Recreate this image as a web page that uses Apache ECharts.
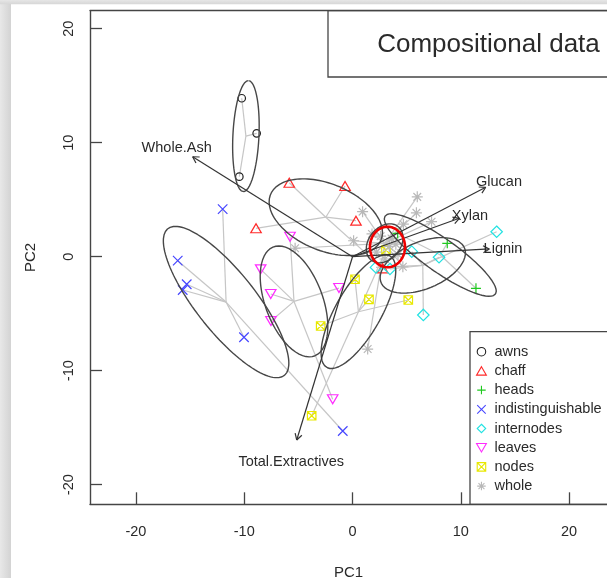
<!DOCTYPE html>
<html>
<head>
<meta charset="utf-8">
<script src="https://cdn.jsdelivr.net/npm/echarts@6/dist/echarts.min.js"></script>
<style>
  html, body { margin: 0; padding: 0; background: #fff; }
  #chart { width: 607px; height: 578px; }
</style>
</head>
<body>
<div id="chart"></div>
<script>
// PCA scores (PC1, PC2) per plant fraction
const groupNames = ['awns', 'chaff', 'heads', 'indistinguishable', 'internodes', 'leaves', 'nodes', 'whole'];
const awns = [[-10.23, 13.9], [-8.85, 10.82], [-10.45, 7.02]];
const chaff = [[-5.84, 6.49], [-0.69, 6.2], [0.32, 3.16], [-8.91, 2.49], [2.79, -1.02]];
const heads = [[4.17, 2.04], [8.75, 1.17], [11.4, -2.77]];
const indistinguishable = [[-11.99, 4.18], [-16.14, -0.35], [-15.31, -2.42], [-15.68, -2.92], [-10.02, -7.07], [-0.9, -15.29]];
const internodes = [[13.31, 2.19], [5.47, 0.44], [7.99, -0.05], [6.54, -5.11], [2.17, -0.94], [3.46, -1.08]];
const leaves = [[-5.77, 1.75], [-8.48, -1.11], [-7.55, -3.27], [-7.53, -5.64], [-1.25, -2.75], [-1.83, -12.51]];
const nodes = [[3.09, 0.59], [0.23, -1.98], [1.52, -3.74], [5.15, -3.8], [-2.94, -6.08], [-3.77, -13.95]];
const whole = [[5.98, 5.25], [0.93, 3.95], [5.9, 3.85], [4.7, 2.85], [7.3, 3.07], [0.1, 1.4], [4.65, -0.88],
               [1.4, -8.1], [-5.3, 0.74], [1.8, 2.0], [2.6, 1.8], [3.6, 1.6], [4.2, 0.2], [2.2, 0.4],
               [3.4, 0.9], [4.0, 1.1], [3.0, -0.2]];

// variable loadings (arrow tips)
const loadingNames = ['Whole.Ash', 'Glucan', 'Xylan', 'Lignin', 'Total.Extractives'];
const loadingPC1 = [-14.76, 12.3, 9.86, 12.63, -5.15];
const loadingPC2 = [8.77, 6.09, 3.37, 0.68, -16.08];

// highlighted region (centre PC1, centre PC2, radius PC1, radius PC2)
const highlight = [3.23, 0.85, 1.62, 1.78];

const xTicks = [-20, -10, 0, 10, 20];
const yTicks = [-20, -10, 0, 10, 20];

const groupData = [awns, chaff, heads, indistinguishable, internodes, leaves, nodes, whole];
const groupColors = ['#222222', '#ff2a2a', '#1fc91f', '#4646ff', '#22e2e2', '#ff2cff', '#e8e800', '#b9b9b9'];
const groupSymbols = [
  'circle',
  'path://M5,0L10,8.66L0,8.66Z',
  'path://M0,5L10,5M5,0L5,10',
  'path://M0,0L10,10M10,0L0,10',
  'path://M5,0L10,5L5,10L0,5Z',
  'path://M0,0L10,0L5,8.66Z',
  'path://M0,0L10,0L10,10L0,10ZM0,0L10,10M10,0L0,10',
  'path://M0,5L10,5M5,0L5,10M1.5,1.5L8.5,8.5M8.5,1.5L1.5,8.5'
];
const groupSizes = [7.5, [10.5, 9], 10, 9.5, 11.5, [10.5, 9], 8.5, 11];

const FONT = '"Liberation Sans", Arial, Helvetica, sans-serif';
const INK = '#2a2a2a';
const FRAME = '#454545';

function centroid(pts) {
  const n = pts.length;
  return [pts.reduce((s, p) => s + p[0], 0) / n, pts.reduce((s, p) => s + p[1], 0) / n];
}

// 95% confidence ellipse of the group centroid (standard-error ellipse)
function seEllipse(pts, steps) {
  const n = pts.length;
  const [mx, my] = centroid(pts);
  let sxx = 0, syy = 0, sxy = 0;
  pts.forEach(p => {
    const dx = p[0] - mx, dy = p[1] - my;
    sxx += dx * dx; syy += dy * dy; sxy += dx * dy;
  });
  const k = 1 / ((n - 1) * n);
  const a = sxx * k, d = syy * k, b = sxy * k;
  const tr = a + d, det = a * d - b * b;
  const disc = Math.sqrt(Math.max(tr * tr / 4 - det, 0));
  const l1 = tr / 2 + disc, l2 = Math.max(tr / 2 - disc, 0);
  const th = 0.5 * Math.atan2(2 * b, a - d);
  const r = Math.sqrt(5.991464547);
  const out = [];
  for (let i = 0; i <= steps; i++) {
    const t = 2 * Math.PI * i / steps;
    const u = r * Math.sqrt(l1) * Math.cos(t), v = r * Math.sqrt(l2) * Math.sin(t);
    out.push([mx + u * Math.cos(th) - v * Math.sin(th), my + u * Math.sin(th) + v * Math.cos(th)]);
  }
  return out;
}

function ring(p, steps) {
  const out = [];
  for (let i = 0; i <= steps; i++) {
    const t = 2 * Math.PI * i / steps;
    out.push([p[0] + p[2] * Math.cos(t), p[1] + p[3] * Math.sin(t)]);
  }
  return out;
}

const series = [];

// spider segments from each centroid to its members
const spider = [];
groupData.forEach(pts => {
  const c = centroid(pts);
  pts.forEach(p => spider.push({ coords: [c, p] }));
});
series.push({
  type: 'lines', coordinateSystem: 'cartesian2d', silent: true, z: 1,
  lineStyle: { color: '#c6c6c6', width: 1.2, opacity: 1 },
  data: spider
});

// group members
groupData.forEach((pts, i) => {
  series.push({
    name: groupNames[i], type: 'scatter', z: 3, silent: true,
    symbol: groupSymbols[i], symbolSize: groupSizes[i], symbolKeepAspect: false,
    itemStyle: { color: 'transparent', borderColor: groupColors[i], borderWidth: 1.2, opacity: 1 },
    data: pts
  });
});

// confidence ellipses
groupData.forEach(pts => {
  series.push({
    type: 'line', silent: true, z: 4, showSymbol: false, symbol: 'none',
    lineStyle: { color: '#474747', width: 1.4 },
    data: seEllipse(pts, 120)
  });
});

// loading arrows with labels just beyond each tip
series.push({
  type: 'custom', silent: true, z: 5,
  data: loadingPC1.map((x, i) => [x, loadingPC2[i]]),
  renderItem: function (params, api) {
    const x = api.value(0), y = api.value(1);
    const p0 = api.coord([0, 0]);
    const p1 = api.coord([x, y]);
    const lp = api.coord([x * 1.1, y * 1.1]);
    const ang = Math.atan2(p1[1] - p0[1], p1[0] - p0[0]);
    const hl = 7, ha = Math.PI / 6;
    const style = { stroke: '#333', lineWidth: 1.2 };
    const dy = y < 0 ? 3.5 : 1.2;
    return {
      type: 'group',
      children: [
        { type: 'line', shape: { x1: p0[0], y1: p0[1], x2: p1[0], y2: p1[1] }, style: style },
        { type: 'line', shape: { x1: p1[0], y1: p1[1], x2: p1[0] - hl * Math.cos(ang - ha), y2: p1[1] - hl * Math.sin(ang - ha) }, style: style },
        { type: 'line', shape: { x1: p1[0], y1: p1[1], x2: p1[0] - hl * Math.cos(ang + ha), y2: p1[1] - hl * Math.sin(ang + ha) }, style: style },
        { type: 'text', x: lp[0], y: lp[1] + dy, style: { text: loadingNames[params.dataIndex], fill: INK, font: '14.5px ' + FONT, align: 'center', verticalAlign: 'middle' } }
      ]
    };
  }
});

// highlighted region
series.push({
  type: 'line', silent: true, z: 6, showSymbol: false, symbol: 'none',
  lineStyle: { color: '#ee0000', width: 2.6 },
  data: ring(highlight, 90)
});

const X_MIN = -24.24, X_MAX = 23.5;
const Y_MIN = -21.72, Y_MAX = 21.58;

const chart = echarts.init(document.getElementById('chart'), null, { renderer: 'canvas' });
chart.setOption({
  animation: false,
  backgroundColor: '#ffffff',
  grid: { left: 90, top: 10.7, right: 0, height: 493.6, show: false, outerBoundsMode: 'none', containLabel: false },
  xAxis: [{
    type: 'value', min: X_MIN, max: X_MAX,
    name: 'PC1', nameLocation: 'middle', nameGap: 61,
    nameTextStyle: { fontFamily: FONT, fontSize: 15, color: INK },
    axisLine: { show: true, onZero: false, lineStyle: { color: FRAME, width: 1.4 } },
    axisTick: { show: true, inside: true, length: 12, customValues: xTicks, lineStyle: { color: FRAME, width: 1.3 } },
    axisLabel: { customValues: xTicks, margin: 20, fontFamily: FONT, fontSize: 14.5, color: INK },
    splitLine: { show: false }
  }, {
    // top edge of the plotting frame
    type: 'value', position: 'top', min: X_MIN, max: X_MAX,
    axisLine: { show: true, onZero: false, lineStyle: { color: FRAME, width: 1.4 } },
    axisTick: { show: false }, axisLabel: { show: false }, splitLine: { show: false }
  }],
  yAxis: {
    type: 'value', min: Y_MIN, max: Y_MAX,
    name: 'PC2', nameLocation: 'middle', nameGap: 52, nameRotate: 90,
    nameTextStyle: { fontFamily: FONT, fontSize: 15, color: INK },
    axisLine: { show: true, onZero: false, lineStyle: { color: FRAME, width: 1.4 } },
    axisTick: { show: true, inside: true, length: 12, customValues: yTicks, lineStyle: { color: FRAME, width: 1.3 } },
    axisLabel: { customValues: yTicks, rotate: 90, margin: 14, fontFamily: FONT, fontSize: 14.5, color: INK },
    splitLine: { show: false }
  },
  legend: {
    orient: 'vertical', left: 476, top: 342.1, padding: 0, itemGap: 0,
    itemWidth: 16, itemHeight: 8.5, symbolKeepAspect: true, selectedMode: false,
    textStyle: { fontFamily: FONT, fontSize: 14.5, color: INK, lineHeight: 19.2 },
    data: groupNames.map((n, i) => ({
      name: n, icon: groupSymbols[i],
      itemStyle: { color: 'transparent', borderColor: groupColors[i], borderWidth: 1.1 }
    }))
  },
  graphic: [
    // title frame
    { type: 'rect', z: 10, shape: { x: 328, y: 10.7, width: 300, height: 66.3 }, style: { fill: 'none', stroke: FRAME, lineWidth: 1.3 } },
    { type: 'text', z: 10, x: 488.5, y: 45, style: { text: 'Compositional data', font: '26px ' + FONT, fill: INK, align: 'center', verticalAlign: 'middle' } },
    // legend frame
    { type: 'rect', z: 10, shape: { x: 470, y: 331.7, width: 200, height: 172.6 }, style: { fill: 'none', stroke: FRAME, lineWidth: 1.3 } },
    // window edge shading
    { type: 'rect', z: 20, shape: { x: 0, y: 0, width: 11, height: 578 }, style: { fill: new echarts.graphic.LinearGradient(0, 0, 1, 0, [{ offset: 0, color: '#e8e8e8' }, { offset: 1, color: '#d3d3d3' }]) } },
    { type: 'rect', z: 20, shape: { x: 0, y: 0, width: 607, height: 4.3 }, style: { fill: new echarts.graphic.LinearGradient(0, 0, 0, 1, [{ offset: 0, color: '#e6e6e6' }, { offset: 1, color: '#d6d6d6' }]) } }
  ],
  series: series
});
</script>
</body>
</html>
